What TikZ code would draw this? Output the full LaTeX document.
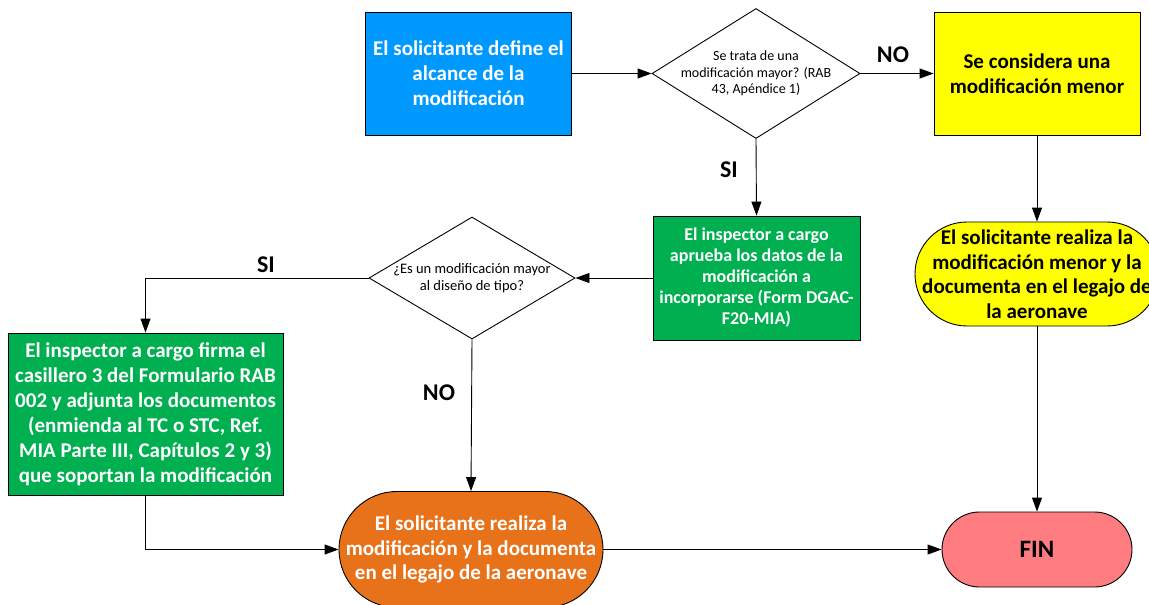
\documentclass[tikz,border=0pt]{standalone}
\usepackage{fontspec}
\setmainfont{Carlito}
\usetikzlibrary{arrows.meta,shapes.geometric}
\definecolor{cblue}{HTML}{0099FF}
\definecolor{cgreen}{HTML}{00B050}
\definecolor{cyellow}{HTML}{FFFF00}
\definecolor{corange}{HTML}{E8721A}
\definecolor{cpink}{HTML}{FF7C80}
\begin{document}
\begin{tikzpicture}[x=1pt,y=-1pt,
  base/.style={draw=black,line width=0.9pt,inner sep=0pt,align=center},
  box/.style={base,rectangle,font=\bfseries\fontsize{21}{25}\selectfont},
  smallbox/.style={base,rectangle,font=\bfseries\fontsize{18}{21}\selectfont},
  term/.style={base,rectangle,font=\bfseries\fontsize{21}{24.5}\selectfont},
  decision/.style={base,diamond,aspect=1.6},
  qtext/.style={inner sep=0pt,align=center},
  tag/.style={inner sep=0pt,font=\bfseries\fontsize{24}{28}\selectfont},
  arr/.style={-{Triangle[length=14pt,width=10pt]},line width=0.9pt},
]
\useasboundingbox (0,0) rectangle (1149,605);
\clip (0,0) rectangle (1149,605);

% process boxes
\node[box,fill=cblue,text=white,minimum width=206pt,minimum height=123pt] (start) at (468.5,73.5)
  {El solicitante define el\\alcance de la\\modificación};
\node[box,fill=cyellow,text=black,minimum width=206pt,minimum height=123pt] (minor) at (1037,73.5)
  {Se considera una\\modificación menor};
\node[smallbox,fill=cgreen,text=white,minimum width=207pt,minimum height=124pt] (approve) at (756.5,278)
  {El inspector a cargo\\aprueba los datos de la\\modificación a\\incorporarse (Form DGAC-\\F20-MIA)};
\node[box,fill=cgreen,text=white,minimum width=275pt,minimum height=162pt] (sign) at (145.5,414)
  {El inspector a cargo firma el\\casillero 3 del Formulario RAB\\002 y adjunta los documentos\\(enmienda al TC o STC, Ref.\\MIA Parte III, Capítulos 2 y 3)\\que soportan la modificación};

% decisions
\node[decision,minimum width=208pt,minimum height=130pt] (q1) at (756,73.5) {};
\node[qtext,font=\fontsize{14}{16.5}\selectfont] (q1t) at (q1.center)
  {Se trata de una\\modificación mayor? (RAB\\43, Apéndice 1)};
\node[decision,minimum width=206pt,minimum height=122pt] (q2) at (472,278) {};
\node[qtext,font=\fontsize{14.5}{17.5}\selectfont] (q2t) at (q2.center)
  {¿Es un modificación mayor\\al diseño de tipo?};

% terminals
\node[term,fill=cyellow,text=black,minimum width=244pt,minimum height=104pt,rounded corners=52pt] (minordo) at (1037,274)
  {El solicitante realiza la\\modificación menor y la\\documenta en el legajo de\\la aeronave};
\node[term,fill=corange,text=white,minimum width=264pt,minimum height=116pt,rounded corners=58pt] (majordo) at (471,549.5)
  {El solicitante realiza la\\modificación y la documenta\\en el legajo de la aeronave};
\node[term,fill=cpink,text=black,minimum width=190pt,minimum height=75pt,rounded corners=37.5pt,font=\bfseries\fontsize{25}{28}\selectfont] (fin) at (1037,549.5)
  {FIN};

% connectors
\draw[arr] (start.east) -- (q1.west);
\draw[arr] (q1.east) -- (minor.west);
\draw[arr] (minor.south) -- (minordo.north);
\draw[arr] (minordo.south) -- (fin.north);
\draw[arr] (q1.south) -- (approve.north);
\draw[arr] (approve.west) -- (q2.east);
\draw[arr] (q2.west) -| (sign.north);
\draw[arr] (q2.south) -- (majordo.north);
\draw[arr] (sign.south) |- (majordo.west);
\draw[arr] (majordo.east) -- (fin.west);

% branch labels
\node[tag] (tno1) at (893,55) {NO};
\node[tag] (tsi1) at (729,170) {SI};
\node[tag] (tsi2) at (266,265) {SI};
\node[tag] (tno2) at (439,393) {NO};
\end{tikzpicture}
\end{document}
